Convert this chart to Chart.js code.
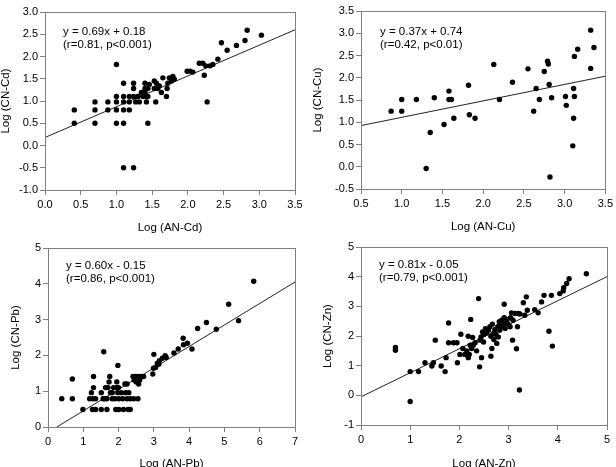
<!DOCTYPE html>
<html>
<head>
<meta charset="utf-8">
<title>Log (AN) vs Log (CN)</title>
<script src="https://cdn.jsdelivr.net/npm/chart.js@4.4.1/dist/chart.umd.min.js"></script>
<style>
  html, body { margin: 0; padding: 0; background: #fff; overflow: hidden; }
  #wrap { position: relative; width: 616px; height: 467px; overflow: hidden; }
  canvas { position: absolute; }
</style>
</head>
<body>
<div id="wrap">
  <canvas id="cdChart" width="308" height="240" style="left:0;top:0"></canvas>
  <canvas id="cuChart" width="308" height="240" style="left:308px;top:0"></canvas>
  <canvas id="pbChart" width="308" height="250" style="left:0;top:233px"></canvas>
  <canvas id="znChart" width="308" height="250" style="left:308px;top:233px"></canvas>
</div>
<script>
// ---------------------------------------------------------
// Data: [Log AN, Log CN]
// ---------------------------------------------------------
const cdPoints = [
  [0.41,0.8],[0.41,0.5],[0.70,0.98],[0.70,0.8],[0.70,0.5],[0.88,0.98],[0.88,0.8],
  [1.0,1.82],[1.0,1.1],[1.0,0.98],[1.0,0.8],[1.0,0.5],
  [1.1,1.4],[1.1,1.1],[1.1,0.98],[1.1,0.8],[1.1,0.5],[1.1,-0.5],[1.24,-0.5],
  [1.18,1.1],[1.18,0.98],[1.18,0.8],[1.24,1.4],[1.24,1.28],[1.24,1.1],[1.27,0.98],
  [1.3,1.1],[1.32,0.98],[1.35,1.19],[1.37,1.1],[1.40,1.28],[1.40,1.4],[1.40,1.19],
  [1.42,1.1],[1.42,0.98],[1.44,0.5],[1.44,1.28],[1.44,1.1],[1.46,1.37],[1.55,0.98],
  [1.53,1.28],[1.53,1.45],[1.56,1.4],[1.58,1.28],[1.60,1.34],[1.63,1.19],[1.65,1.52],
  [1.70,1.1],[1.71,1.28],[1.72,1.4],[1.74,1.52],[1.77,1.45],[1.79,1.55],[1.81,1.49],
  [1.99,1.67],[2.03,1.67],[2.07,1.65],[2.16,1.85],[2.21,1.85],[2.23,1.58],[2.25,1.79],
  [2.27,0.98],[2.31,1.79],[2.35,1.82],[2.42,1.94],[2.47,2.31],[2.55,2.14],[2.68,2.25],
  [2.80,2.36],[2.83,2.59],[3.03,2.48]
];
const cuPoints = [
  [0.87,1.25],[1.0,1.51],[1.0,1.25],[1.18,1.51],[1.30,-0.04],[1.35,0.77],[1.40,1.55],
  [1.52,0.95],[1.58,1.70],[1.58,1.51],[1.61,1.51],[1.64,1.09],[1.82,1.83],[1.83,1.17],
  [1.90,1.09],[2.13,2.30],[2.20,1.51],[2.36,1.90],[2.55,2.20],[2.62,1.25],[2.65,1.76],
  [2.69,1.51],[2.75,2.14],[2.79,2.37],[2.80,2.31],[2.81,1.85],[2.82,-0.23],[2.84,1.55],
  [3.01,1.58],[3.02,1.38],[3.10,0.47],[3.11,1.09],[3.11,1.76],[3.12,2.48],[3.12,1.58],
  [3.16,2.64],[3.32,3.07],[3.32,2.21],[3.36,2.68]
];
const pbPoints = [
  [0.39,0.79],[0.69,1.34],[0.69,0.79],[0.99,0.49],[1.18,0.79],[1.23,0.96],[1.27,0.79],
  [1.29,1.10],[1.29,1.41],[1.26,0.49],[1.35,0.79],[1.35,0.49],[1.51,0.96],[1.51,0.49],
  [1.56,0.79],[1.58,2.10],[1.61,0.79],[1.63,1.10],[1.67,0.79],[1.67,0.49],[1.70,1.10],
  [1.73,1.26],[1.75,1.41],[1.77,0.96],[1.82,0.79],[1.82,0.96],[1.86,1.10],[1.90,0.79],
  [1.92,0.49],[1.94,1.10],[1.95,1.26],[1.98,1.72],[1.98,0.96],[2.0,1.10],[2.01,0.79],
  [2.01,0.49],[2.08,0.96],[2.12,0.79],[2.14,0.49],[2.18,1.20],[2.20,0.96],[2.24,0.79],
  [2.24,1.20],[2.27,0.49],[2.29,0.96],[2.33,0.79],[2.33,0.49],[2.41,1.41],[2.43,0.79],
  [2.44,1.31],[2.48,1.41],[2.50,1.26],[2.55,0.79],[2.55,1.41],[2.57,1.20],[2.60,1.31],
  [2.63,1.41],[2.71,1.41],[2.97,1.48],[2.99,1.64],[3.00,2.03],[3.05,1.66],[3.10,1.78],
  [3.14,1.75],[3.16,1.85],[3.24,1.92],[3.32,1.99],[3.35,1.94],[3.57,2.07],[3.69,2.18],
  [3.83,2.48],[3.84,2.30],[3.95,2.34],[4.08,2.18],[4.24,2.75],[4.49,2.92],[4.77,2.73],
  [5.12,3.43],[5.40,2.97],[5.83,4.07]
];
const znPoints = [
  [0.70,1.61],[0.70,1.52],[1.0,0.80],[1.0,-0.21],[1.17,0.80],[1.30,1.10],[1.44,0.99],
  [1.47,1.10],[1.51,1.86],[1.63,0.99],[1.71,0.80],[1.73,1.27],[1.78,2.44],[1.78,1.77],
  [1.88,1.77],[1.95,1.77],[1.96,1.10],[2.01,1.38],[2.03,2.06],[2.07,1.58],[2.11,1.38],
  [2.15,1.50],[2.18,1.99],[2.18,1.27],[2.20,1.38],[2.22,1.69],[2.23,2.56],[2.25,1.58],
  [2.27,1.95],[2.28,1.69],[2.32,1.77],[2.35,1.50],[2.39,3.26],[2.41,0.96],[2.42,1.86],
  [2.44,1.97],[2.45,1.27],[2.47,2.14],[2.49,1.80],[2.50,2.06],[2.53,2.25],[2.55,2.10],
  [2.59,2.19],[2.62,2.31],[2.64,1.99],[2.64,1.32],[2.66,1.58],[2.67,2.40],[2.69,2.08],
  [2.70,1.88],[2.72,2.21],[2.74,2.06],[2.76,1.75],[2.78,2.31],[2.79,1.97],[2.81,2.48],
  [2.82,2.19],[2.84,2.36],[2.86,2.53],[2.87,2.31],[2.89,2.44],[2.91,3.07],[2.91,2.62],
  [2.93,2.25],[2.95,2.42],[2.97,2.56],[2.99,2.40],[3.03,2.31],[3.04,2.62],[3.06,2.78],
  [3.08,1.86],[3.09,2.53],[3.13,2.76],[3.16,1.57],[3.18,2.31],[3.20,2.76],[3.22,0.18],
  [3.23,2.74],[3.30,3.12],[3.33,2.70],[3.36,3.32],[3.38,2.87],[3.53,2.89],[3.60,2.78],
  [3.67,3.15],[3.72,3.37],[3.82,2.16],[3.87,3.37],[3.89,1.66],[4.04,3.43],[4.11,3.52],
  [4.12,3.63],[4.18,3.77],[4.23,3.93],[4.58,4.10]
];

// regression line end points as drawn in the picture
const cdFit = [[0, 0.18], [3.5, 2.6]];
const cuFit = [[0.5, 0.925], [3.5, 2.035]];
const pbFit = [[0.25, 0], [7, 4.05]];
const znFit = [[0, -0.05], [5, 4.0]];

// tick labels
const cdXTicks = [0, 0.5, 1, 1.5, 2, 2.5, 3, 3.5];
const cdYTicks = [-1, -0.5, 0, 0.5, 1, 1.5, 2, 2.5, 3];
const cuXTicks = [0.5, 1, 1.5, 2, 2.5, 3, 3.5];
const cuYTicks = [-0.5, 0, 0.5, 1, 1.5, 2, 2.5, 3, 3.5];
const pbXTicks = [0, 1, 2, 3, 4, 5, 6, 7];
const pbYTicks = [0, 1, 2, 3, 4, 5];
const znXTicks = [0, 1, 2, 3, 4, 5];
const znYTicks = [-1, 0, 1, 2, 3, 4, 5];

// equation text in each panel
const cdText = ["y = 0.69x + 0.18", "(r=0.81, p<0.001)"];
const cuText = ["y = 0.37x + 0.74", "(r=0.42, p<0.01)"];
const pbText = ["y = 0.60x - 0.15", "(r=0.86, p<0.001)"];
const znText = ["y = 0.81x - 0.05", "(r=0.79, p<0.001)"];

// ---------------------------------------------------------
// Styling
// ---------------------------------------------------------
const FONT = '"Liberation Sans", Arial, sans-serif';
const AXIS_COLOR = "#808080";
const TEXT_COLOR = "#000";

// draws the box around the plot area and the equation text
const panelPlugin = {
  id: "panelText",
  afterDraw(chart, args, opts) {
    const { ctx, chartArea: a } = chart;
    ctx.save();
    ctx.strokeStyle = AXIS_COLOR;
    ctx.lineWidth = 1;
    ctx.strokeRect(Math.round(a.left) + 0.5, Math.round(a.top) + 0.5,
      Math.round(a.right - a.left), Math.round(a.bottom - a.top));
    ctx.fillStyle = TEXT_COLOR;
    ctx.font = "11.5px " + FONT;
    ctx.textBaseline = "middle";
    opts.lines.forEach((t, i) => ctx.fillText(t, a.left + opts.dx, a.top + opts.dy + i * 12.5));
    ctx.restore();
  }
};

function axis(min, max, ticks, dec, title, fitSize, horizontal, titlePad) {
  return {
    type: "linear",
    min: min,
    max: max,
    afterBuildTicks: s => { s.ticks = ticks.map(v => ({ value: v })); },
    afterFit: s => { if (horizontal) s.height = fitSize; else s.width = fitSize; },
    ticks: {
      color: TEXT_COLOR,
      font: { family: FONT, size: 11 },
      padding: horizontal ? 3 : 2,
      autoSkip: false,
      maxRotation: 0,
      callback: v => v.toFixed(dec)
    },
    grid: { drawOnChartArea: false, drawTicks: true, tickLength: 5, color: AXIS_COLOR },
    border: { display: true, color: AXIS_COLOR },
    title: {
      display: true,
      text: title,
      color: TEXT_COLOR,
      font: { family: FONT, size: 11.5, lineHeight: 1 },
      padding: horizontal ? { top: 0, bottom: titlePad } : { top: titlePad, bottom: 0 }
    }
  };
}

function makePanel(id, p) {
  new Chart(document.getElementById(id), {
    type: "scatter",
    data: {
      datasets: [
        {
          data: p.points.map(([x, y]) => ({ x, y })),
          pointRadius: 2.7,
          pointHoverRadius: 2.7,
          pointBackgroundColor: "#000",
          pointBorderWidth: 0
        },
        {
          data: p.fit.map(([x, y]) => ({ x, y })),
          showLine: true,
          borderColor: "#222",
          borderWidth: 1,
          pointRadius: 0
        }
      ]
    },
    options: {
      responsive: false,
      animation: false,
      events: [],
      layout: { padding: { top: p.padTop, right: p.padRight, left: 0, bottom: 0 } },
      plugins: {
        legend: { display: false },
        tooltip: { enabled: false },
        panelText: { lines: p.text, dx: p.dx, dy: p.dy }
      },
      scales: {
        x: axis(p.xTicks[0], p.xTicks[p.xTicks.length - 1], p.xTicks, p.dec, p.xTitle, p.xHeight, true, p.xTitlePad),
        y: axis(p.yTicks[0], p.yTicks[p.yTicks.length - 1], p.yTicks, p.dec, p.yTitle, p.yWidth, false, p.yTitlePad)
      }
    },
    plugins: [panelPlugin]
  });
}

makePanel("cdChart", {
  points: cdPoints, fit: cdFit, xTicks: cdXTicks, yTicks: cdYTicks, dec: 1, text: cdText,
  xTitle: "Log (AN-Cd)", yTitle: "Log (CN-Cd)",
  padTop: 12, padRight: 13, yWidth: 45, xHeight: 50, xTitlePad: 6, yTitlePad: 0, dx: 18, dy: 20
});
makePanel("cuChart", {
  points: cuPoints, fit: cuFit, xTicks: cuXTicks, yTicks: cuYTicks, dec: 1, text: cuText,
  xTitle: "Log (AN-Cu)", yTitle: "Log (CN-Cu)",
  padTop: 11, padRight: 9, yWidth: 53, xHeight: 51, xTitlePad: 7, yTitlePad: 4, dx: 19, dy: 21
});
makePanel("pbChart", {
  points: pbPoints, fit: pbFit, xTicks: pbXTicks, yTicks: pbYTicks, dec: 0, text: pbText,
  xTitle: "Log (AN-Pb)", yTitle: "Log (CN-Pb)",
  padTop: 15, padRight: 13, yWidth: 48, xHeight: 56, xTitlePad: 13, yTitlePad: 10, dx: 18, dy: 18
});
makePanel("znChart", {
  points: znPoints, fit: znFit, xTicks: znXTicks, yTicks: znYTicks, dec: 0, text: znText,
  xTitle: "Log (AN-Zn)", yTitle: "Log (CN-Zn)",
  padTop: 14, padRight: 9, yWidth: 53, xHeight: 58, xTitlePad: 13, yTitlePad: 14, dx: 18, dy: 18
});
</script>
</body>
</html>
